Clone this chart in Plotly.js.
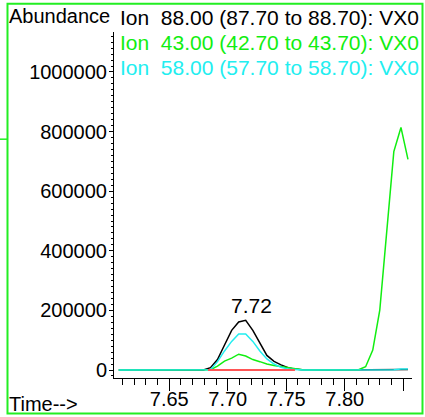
<!DOCTYPE html>
<html>
<head>
<meta charset="utf-8">
<script src="https://cdn.plot.ly/plotly-3.0.1.min.js"></script>
<style>html,body{margin:0;padding:0;background:#fff;}#chart{width:425px;height:417px;}</style>
</head>
<body>
<div id="chart"></div>
<script>
// Retention time (min) of each scan
var time = [7.6068,7.6128,7.6189,7.6249,7.6309,7.6370,7.6430,7.6490,7.6550,7.6611,
            7.6671,7.6731,7.6792,7.6852,7.6912,7.6972,7.7033,7.7093,7.7153,7.7214,
            7.7274,7.7334,7.7395,7.7455,7.7515,7.7575,7.7636,7.7696,7.7756,7.7817,
            7.7877,7.7937,7.7997,7.8058,7.8118,7.8178,7.8239,7.8299,7.8359,7.8419,
            7.8480,7.8540];
// Ion 88.00 (black)
var ion88 = [0,0,0,0,0,0,0,0,0,0,
             0,0,0,8000,35000,84000,133000,161000,167000,133000,
             89000,49000,29000,17000,8000,3000,1000,0,0,0,
             0,0,0,0,0,0,0,0,0,0,
             2000,2000];
// Ion 43.00 (green)
var ion43 = [0,0,0,0,0,0,0,0,0,0,
             0,0,0,1000,13000,30000,40000,53000,47000,35000,
             28000,20000,15000,11000,7000,3000,1000,0,0,0,
             0,0,0,0,1000,11000,67000,201000,466000,733000,
             814000,707000];
// Ion 58.00 (cyan)
var ion58 = [0,0,0,0,0,0,0,0,0,0,
             0,0,0,1000,28000,64000,96000,121000,121000,96000,
             64000,37000,20000,9000,3000,1000,0,0,0,0,
             0,0,0,0,0,0,0,0,0,1000,
             3000,3000];
// Integration baseline (red)
var baselineTime = [7.6831, 7.7574];
var baselineValue = [0, 0];
// Peak label
var peakTime = [7.7153];
var peakValue = [167000];
var peakText = ['7.72'];
// Axis ticks
var xTickVals = [7.65, 7.70, 7.75, 7.80, 7.85];
var xTickText = ['7.65', '7.70', '7.75', '7.80', ''];
var yTickVals = [0, 200000, 400000, 600000, 800000, 1000000];
var yTickText = ['0', '200000', '400000', '600000', '800000', '1000000'];
// Legend lines
var ionLabels = ['Ion\u00a0\u00a088.00 (87.70 to 88.70): VX0',
                 'Ion\u00a0\u00a043.00 (42.70 to 43.70): VX0',
                 'Ion\u00a0\u00a058.00 (57.70 to 58.70): VX0'];
var ionColors = ['#000000', '#11ee11', '#22eef0'];

var FONT = 'Liberation Sans, Arial, sans-serif';
var FS = 20;
var FS_ION = 21;

var traces = [
  {x: time, y: ion88, mode: 'lines', line: {color: ionColors[0], width: 1.5}, hoverinfo: 'skip'},
  {x: time, y: ion43, mode: 'lines', line: {color: ionColors[1], width: 1.5}, hoverinfo: 'skip'},
  {x: time, y: ion58, mode: 'lines', line: {color: ionColors[2], width: 1.5}, hoverinfo: 'skip'},
  {x: baselineTime, y: baselineValue, mode: 'lines', line: {color: '#ff5555', width: 2}, hoverinfo: 'skip'}
];

var annotations = [
  {xref: 'paper', yref: 'paper', x: -0.358, y: 1.046, xanchor: 'left', yanchor: 'middle',
   text: 'Abundance', showarrow: false, font: {family: FONT, size: FS, color: '#000'}},
  {xref: 'paper', yref: 'paper', x: -0.358, y: -0.075, xanchor: 'left', yanchor: 'middle',
   text: 'Time-->', showarrow: false, font: {family: FONT, size: FS, color: '#000'}}
];
var ionY = [1.042, 0.970, 0.8975];
for (var i = 0; i < ionLabels.length; i++) {
  annotations.push({xref: 'paper', yref: 'paper', x: 0.014, y: ionY[i], xanchor: 'left', yanchor: 'middle',
    text: ionLabels[i], showarrow: false, font: {family: FONT, size: FS_ION, color: ionColors[i]}});
}
annotations.push({xref: 'x', yref: 'y', x: peakTime[0], y: peakValue[0], xanchor: 'center', yanchor: 'bottom',
  xshift: 6, yshift: 1, text: peakText[0], showarrow: false, font: {family: FONT, size: FS_ION, color: '#000'}});

var layout = {
  width: 425, height: 417,
  margin: {l: 114, r: 13, t: 32, b: 39, pad: 0},
  paper_bgcolor: '#ffffff', plot_bgcolor: '#ffffff',
  showlegend: false,
  xaxis: {
    range: [7.60274, 7.85744], showgrid: false, zeroline: false,
    showline: true, linecolor: '#000', linewidth: 1,
    ticks: 'outside', ticklen: 12, tickwidth: 1, tickcolor: '#000',
    tickmode: 'array', tickvals: xTickVals, ticktext: xTickText,
    ticklabelstandoff: -9,
    minor: {tickmode: 'linear', tick0: 7.60, dtick: 0.01, ticks: 'outside', ticklen: 6, tickwidth: 1, tickcolor: '#000'},
    tickfont: {family: FONT, size: FS, color: '#000'}
  },
  yaxis: {
    range: [-26846, 1134200], showgrid: false, zeroline: false,
    showline: true, linecolor: '#000', linewidth: 1,
    ticks: 'outside', ticklen: 4, tickwidth: 1, tickcolor: '#000',
    tickmode: 'array', tickvals: yTickVals, ticktext: yTickText,
    ticklabelstandoff: -2,
    minor: {tickmode: 'linear', tick0: 0, dtick: 20000, ticks: 'outside', ticklen: 2, tickwidth: 1, tickcolor: '#000'},
    tickfont: {family: FONT, size: FS, color: '#000'}
  },
  annotations: annotations,
  shapes: [
    {type: 'rect', xref: 'paper', yref: 'paper', x0: -0.3574, x1: 1.0352, y0: -0.1025, y1: 1.0814,
     line: {color: '#22ee22', width: 2}, fillcolor: 'rgba(0,0,0,0)', layer: 'above'},
    {type: 'line', xref: 'paper', yref: 'paper', x0: -0.3826, x1: -0.3574, y0: 0.6902, y1: 0.6902,
     line: {color: '#22ee22', width: 1.5}}
  ]
};

Plotly.newPlot('chart', traces, layout, {staticPlot: true, displayModeBar: false});
</script>
</body>
</html>
